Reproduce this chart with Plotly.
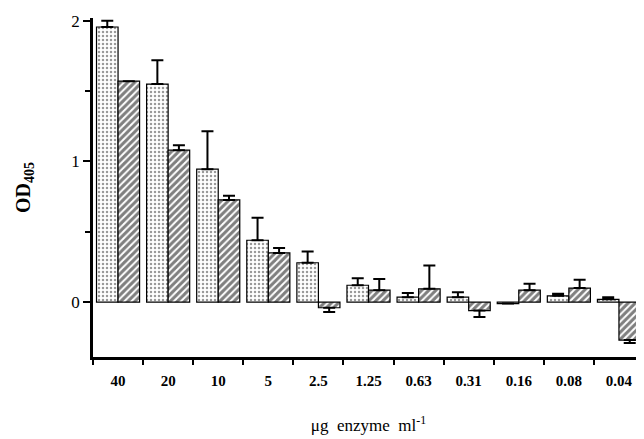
import plotly.graph_objects as go

categories = ["40", "20", "10", "5", "2.5", "1.25", "0.63", "0.31", "0.16", "0.08", "0.04"]
dotted_vals = [1.956, 1.55, 0.945, 0.44, 0.28, 0.12, 0.035, 0.035, -0.01, 0.045, 0.02]
dotted_err = [0.044, 0.17, 0.27, 0.16, 0.08, 0.05, 0.03, 0.035, 0.0, 0.015, 0.015]
hatched_vals = [1.571, 1.08, 0.727, 0.35, -0.04, 0.085, 0.095, -0.06, 0.085, 0.10, -0.27]
hatched_err = [0.0, 0.035, 0.03, 0.035, 0.03, 0.08, 0.165, 0.045, 0.045, 0.06, 0.02]


def split_err(vals, errs):
    plus = [e if v >= 0 else 0 for v, e in zip(vals, errs)]
    minus = [e if v < 0 else 0 for v, e in zip(vals, errs)]
    return plus, minus


dp, dm = split_err(dotted_vals, dotted_err)
hp, hm = split_err(hatched_vals, hatched_err)

fig = go.Figure()
fig.add_trace(go.Bar(
    x=categories, y=dotted_vals,
    marker=dict(color="white", line=dict(color="black", width=1.2),
                pattern=dict(shape=".", fgcolor="#333", bgcolor="white", size=4, solidity=0.3)),
    error_y=dict(type="data", symmetric=False, array=dp, arrayminus=dm,
                 color="black", thickness=2, width=6),
    showlegend=False,
))
fig.add_trace(go.Bar(
    x=categories, y=hatched_vals,
    marker=dict(color="white", line=dict(color="black", width=1.2),
                pattern=dict(shape="/", fgcolor="black", bgcolor="white", size=5, solidity=0.6)),
    error_y=dict(type="data", symmetric=False, array=hp, arrayminus=hm,
                 color="black", thickness=2, width=6),
    showlegend=False,
))

# the page body adds an 8px offset, so the figure is sized/margined to compensate
fig.update_layout(
    width=636, height=431,
    margin=dict(l=85, r=0, t=10, b=82),
    paper_bgcolor="white", plot_bgcolor="white",
    barmode="group", bargap=0.14, bargroupgap=0,
    font=dict(family="Liberation Serif", color="black"),
)
fig.update_xaxes(
    type="category", range=[-0.5, 10.5], automargin=False,
    showline=True, linecolor="black", linewidth=2.5,
    ticks="outside", tickson="boundaries", ticklen=5, tickwidth=2, tickcolor="black",
    ticklabelstandoff=8,
    tickfont=dict(family="Liberation Serif", size=15, color="black", weight="bold"),
    showgrid=False, zeroline=False,
    title=dict(text="μg  enzyme  ml<sup>-1</sup>", font=dict(family="Liberation Serif", size=17), standoff=32),
)
fig.update_yaxes(
    range=[-0.39, 2.02], automargin=False,
    showline=True, linecolor="black", linewidth=2.5,
    tickvals=[0, 1, 2], ticks="outside", ticklen=7, tickwidth=2, tickcolor="black",
    minor=dict(tickvals=[0.5, 1.5], ticks="outside", ticklen=5, tickwidth=2, tickcolor="black"),
    tickfont=dict(family="Liberation Serif", size=17, color="black"),
    showgrid=False, zeroline=False,
    title=dict(text="<b>OD</b><sub><b>405</b></sub>", font=dict(family="Liberation Serif", size=20), standoff=36),
)

fig.write_html("out.html")
